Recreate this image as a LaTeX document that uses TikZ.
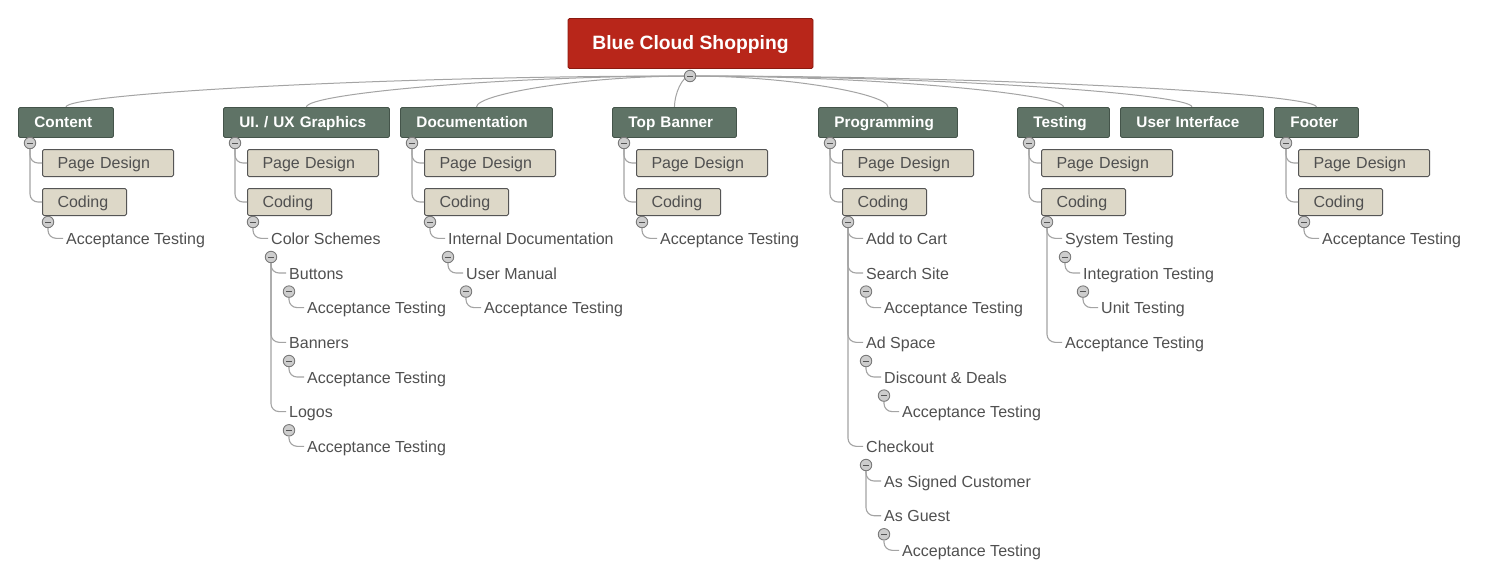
\documentclass[tikz,border=0pt]{standalone}
\usepackage{fontspec}
\setmainfont{Liberation Sans}
\usetikzlibrary{calc}
\definecolor{titlefill}{HTML}{B8261A}
\definecolor{titleborder}{HTML}{8A1A10}
\definecolor{hdrfill}{HTML}{5F7366}
\definecolor{hdrborder}{HTML}{44544A}
\definecolor{subfill}{HTML}{DDD8C8}
\definecolor{subborder}{HTML}{555555}
\definecolor{txtcol}{HTML}{505050}
\definecolor{linecol}{HTML}{A4A4A4}
\definecolor{togfill}{HTML}{CDCDCD}
\definecolor{togborder}{HTML}{7A7A7A}
\newcommand\mmnfont{\fontsize{16}{19}\selectfont}
\newcommand\mmhfont{\bfseries\fontsize{15.3}{18}\selectfont}
\newcommand\mmtfont{\bfseries\fontsize{19.3}{23}\selectfont}
\pgfdeclarelayer{bgfill}
\pgfdeclarelayer{bg}
\pgfsetlayers{bgfill,bg,main}
\tikzset{
  mmtitle/.style={draw=titleborder, line width=0.9pt, fill=titlefill, text=white, font=\mmtfont, minimum width=245, minimum height=50, inner sep=0pt, text height=12pt, text depth=0pt, rounded corners=1.5pt},
  hdr/.style={draw=hdrborder, line width=0.9pt, fill=hdrfill, text=white, font=\mmhfont, anchor=north west, inner xsep=16pt, inner ysep=0pt, minimum height=30, text height=11pt, text depth=0pt, align=left, rounded corners=1.5pt},
  sub/.style={draw=subborder, line width=1pt, fill=subfill, text=txtcol, font=\mmnfont, anchor=north west, inner xsep=15pt, inner ysep=0pt, minimum height=27, text height=11.5pt, text depth=0pt, align=left, rounded corners=1.5pt},
  leaf/.style={text=txtcol, font=\mmnfont, anchor=base west, inner sep=0pt},
  tog/.style={circle, draw=togborder, fill=togfill, line width=0.9pt, minimum size=11.5, inner sep=0pt,
    path picture={\draw[line width=1pt, togborder!70!black] ([xshift=-3pt]path picture bounding box.center) -- ([xshift=3pt]path picture bounding box.center);}},
  conn/.style={draw=linecol, line width=1.1pt, rounded corners=8pt},
  rootline/.style={draw=linecol, line width=1pt},
}
\newcommand\blnk[2]{\draw[conn] (#1.south) |- (#2.west);}
\newcommand\lnk[2]{\draw[conn] (#1.south) |- ($(#2.base west)+(-3,-6)$);}
\newcommand\rootlink[1]{%
  \path (rc.center) -- (#1.north) coordinate[pos=0.5] (rlmid);
  \draw[rootline] (rc.center) .. controls (rlmid |- rc.center) and ($(#1.north)+(0,-13)$) .. (#1.north);}
\begin{document}
\begin{tikzpicture}[x=1pt,y=-1pt]
\begin{pgfonlayer}{bgfill}
  \fill[white] (0,0) rectangle (1491,579);
\end{pgfonlayer}
\useasboundingbox (0,0) rectangle (1491,579);
% root
\node[mmtitle] (root) at (690.5,43.5) {Blue Cloud Shopping};
% headers
\node[hdr, text width=63] (h1) at (18,107) {Content};
\node[hdr, text width=134] (h2) at (223,107) {UI. / UX Graphics};
\node[hdr, text width=120] (h3) at (400,107) {Documentation};
\node[hdr, text width=92] (h4) at (612,107) {Top Banner};
\node[hdr, text width=107] (h5) at (818,107) {Programming};
\node[hdr, text width=60] (h6) at (1017,107) {Testing};
\node[hdr, text width=111] (h7) at (1120,107) {User Interface};
\node[hdr, text width=52] (h8) at (1274,107) {Footer};
\node[tog] (rc) at (690,76) {};
\begin{pgfonlayer}{bg}
  \rootlink{h1}\rootlink{h2}\rootlink{h3}\rootlink{h4}
  \rootlink{h5}\rootlink{h6}\rootlink{h7}\rootlink{h8}
\end{pgfonlayer}
% ---------- Content
\node[tog] (c1) at (30,143) {};
\node[sub, text width=101] (p1) at (42,149) {Page Design};
\node[sub, text width=54] (k1) at (42,188) {Coding};
\node[tog] (kc1) at (48,222) {};
\node[leaf] (a1) at (66,244.3) {Acceptance Testing};
\blnk{c1}{p1}\blnk{c1}{k1}\lnk{kc1}{a1}
% ---------- UI / UX
\node[tog] (c2) at (235,143) {};
\node[sub, text width=101] (p2) at (247,149) {Page Design};
\node[sub, text width=54] (k2) at (247,188) {Coding};
\node[tog] (kc2) at (253,222) {};
\node[leaf] (cs2) at (271,244.3) {Color Schemes};
\node[tog] (csc2) at (271,257) {};
\node[leaf] (bt2) at (289,279) {Buttons};
\node[tog] (btc2) at (289,291.6) {};
\node[leaf] (bta2) at (307,313.6) {Acceptance Testing};
\node[leaf] (bn2) at (289,348.3) {Banners};
\node[tog] (bnc2) at (289,361) {};
\node[leaf] (bna2) at (307,383) {Acceptance Testing};
\node[leaf] (lg2) at (289,417.6) {Logos};
\node[tog] (lgc2) at (289,430.3) {};
\node[leaf] (lga2) at (307,452.3) {Acceptance Testing};
\blnk{c2}{p2}\blnk{c2}{k2}\lnk{kc2}{cs2}
\lnk{csc2}{bt2}\lnk{csc2}{bn2}\lnk{csc2}{lg2}
\lnk{btc2}{bta2}\lnk{bnc2}{bna2}\lnk{lgc2}{lga2}
% ---------- Documentation
\node[tog] (c3) at (412,143) {};
\node[sub, text width=101] (p3) at (424,149) {Page Design};
\node[sub, text width=54] (k3) at (424,188) {Coding};
\node[tog] (kc3) at (430,222) {};
\node[leaf] (id3) at (448,244.3) {Internal Documentation};
\node[tog] (idc3) at (448,257) {};
\node[leaf] (um3) at (466,279) {User Manual};
\node[tog] (umc3) at (466,291.6) {};
\node[leaf] (uma3) at (484,313.6) {Acceptance Testing};
\blnk{c3}{p3}\blnk{c3}{k3}\lnk{kc3}{id3}\lnk{idc3}{um3}\lnk{umc3}{uma3}
% ---------- Top Banner
\node[tog] (c4) at (624,143) {};
\node[sub, text width=101] (p4) at (636,149) {Page Design};
\node[sub, text width=54] (k4) at (636,188) {Coding};
\node[tog] (kc4) at (642,222) {};
\node[leaf] (a4) at (660,244.3) {Acceptance Testing};
\blnk{c4}{p4}\blnk{c4}{k4}\lnk{kc4}{a4}
% ---------- Programming
\node[tog] (c5) at (830,143) {};
\node[sub, text width=101] (p5) at (842,149) {Page Design};
\node[sub, text width=54] (k5) at (842,188) {Coding};
\node[tog] (kc5) at (848,222) {};
\node[leaf] (ac5) at (866,244.3) {Add to Cart};
\node[leaf] (ss5) at (866,279) {Search Site};
\node[tog] (ssc5) at (866,291.6) {};
\node[leaf] (ssa5) at (884,313.6) {Acceptance Testing};
\node[leaf] (ad5) at (866,348.3) {Ad Space};
\node[tog] (adc5) at (866,361) {};
\node[leaf] (dd5) at (884,383) {Discount \& Deals};
\node[tog] (ddc5) at (884,395.6) {};
\node[leaf] (dda5) at (902,417.6) {Acceptance Testing};
\node[leaf] (co5) at (866,452.3) {Checkout};
\node[tog] (coc5) at (866,465) {};
\node[leaf] (sc5) at (884,487) {As Signed Customer};
\node[leaf] (gu5) at (884,521.7) {As Guest};
\node[tog] (guc5) at (884,534.3) {};
\node[leaf] (gua5) at (902,556.3) {Acceptance Testing};
\blnk{c5}{p5}\blnk{c5}{k5}
\lnk{kc5}{ac5}\lnk{kc5}{ss5}\lnk{kc5}{ad5}\lnk{kc5}{co5}
\lnk{ssc5}{ssa5}\lnk{adc5}{dd5}\lnk{ddc5}{dda5}
\lnk{coc5}{sc5}\lnk{coc5}{gu5}\lnk{guc5}{gua5}
% ---------- Testing
\node[tog] (c6) at (1029,143) {};
\node[sub, text width=101] (p6) at (1041,149) {Page Design};
\node[sub, text width=54] (k6) at (1041,188) {Coding};
\node[tog] (kc6) at (1047,222) {};
\node[leaf] (st6) at (1065,244.3) {System Testing};
\node[tog] (stc6) at (1065,257) {};
\node[leaf] (it6) at (1083,279) {Integration Testing};
\node[tog] (itc6) at (1083,291.6) {};
\node[leaf] (ut6) at (1101,313.6) {Unit Testing};
\node[leaf] (at6) at (1065,348.3) {Acceptance Testing};
\blnk{c6}{p6}\blnk{c6}{k6}\lnk{kc6}{st6}\lnk{kc6}{at6}
\lnk{stc6}{it6}\lnk{itc6}{ut6}
% ---------- Footer
\node[tog] (c8) at (1286,143) {};
\node[sub, text width=101] (p8) at (1298,149) {Page Design};
\node[sub, text width=54] (k8) at (1298,188) {Coding};
\node[tog] (kc8) at (1304,222) {};
\node[leaf] (a8) at (1322,244.3) {Acceptance Testing};
\blnk{c8}{p8}\blnk{c8}{k8}\lnk{kc8}{a8}
\end{tikzpicture}
\end{document}
